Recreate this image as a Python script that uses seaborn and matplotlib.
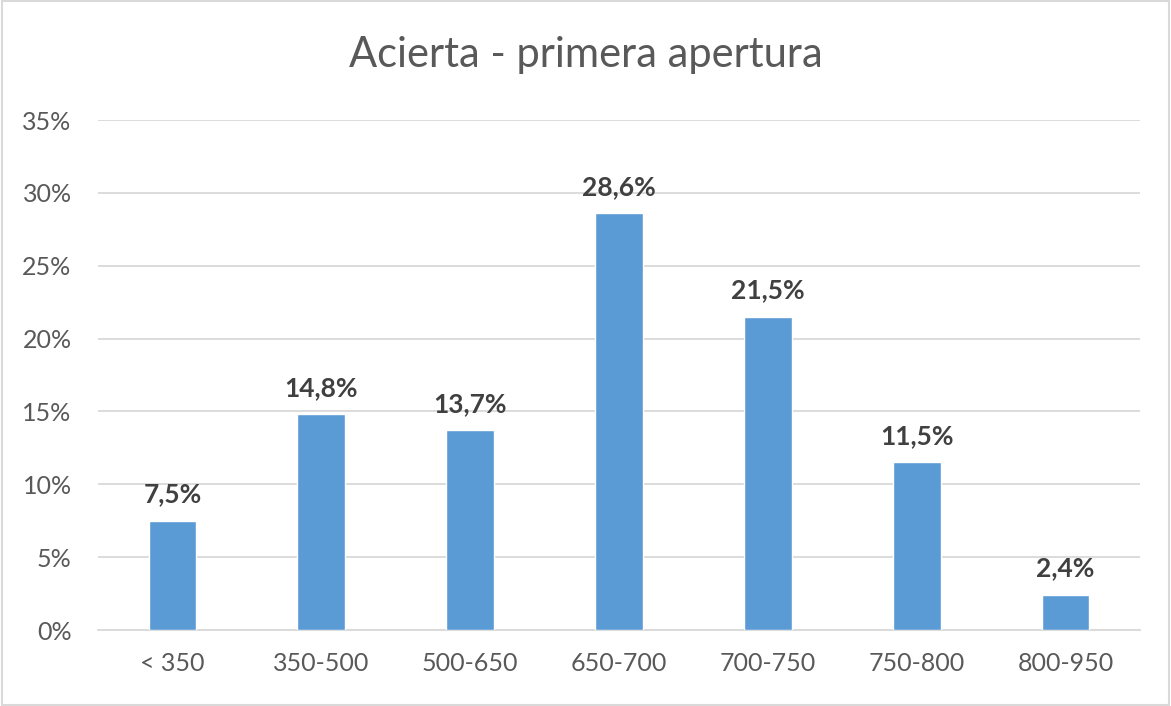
import matplotlib
matplotlib.use("Agg")
import matplotlib.pyplot as plt
import seaborn as sns
import pandas as pd
from matplotlib.patches import Rectangle

# ─── Data ─────────────────────────────────────────────────────────────────────
categories = ["< 350", "350-500", "500-650", "650-700", "700-750", "750-800", "800-950"]
values = [7.5, 14.8, 13.7, 28.6, 21.5, 11.5, 2.4]
y_ticks = [0, 5, 10, 15, 20, 25, 30, 35]

df = pd.DataFrame({"rango": categories, "pct": values})

sns.set_theme(style="white")
plt.rcParams["font.family"] = ["Lato", "DejaVu Sans"]

fig = plt.figure(figsize=(11.71, 7.06), dpi=100)
ax = fig.add_axes([0.0837, 0.1076, 0.8898, 0.7224])

sns.barplot(data=df, x="rango", y="pct", color="#5B9BD5", width=0.32,
            saturation=1, ax=ax, zorder=3)

ax.set_ylim(0, 35)
ax.set_xlim(-0.5, len(categories) - 0.5)
ax.set_yticks(y_ticks)
ax.set_yticklabels([f"{t}%" for t in y_ticks])
ax.yaxis.grid(True, color="#D9D9D9", lw=1.3, zorder=0)
for s in ["top", "right", "left"]:
    ax.spines[s].set_visible(False)
ax.spines["bottom"].set_color("#D9D9D9")
ax.spines["bottom"].set_linewidth(1.3)
ax.tick_params(axis="both", length=0, labelsize=18, colors="#595959")
ax.tick_params(axis="x", pad=16)
ax.tick_params(axis="y", pad=19)
ax.set_xlabel("")
ax.set_ylabel("")

for i, v in enumerate(values):
    ax.text(i, v + 1.0, f"{v:.1f}%".replace(".", ","), ha="center", va="bottom",
            fontsize=19, fontweight="bold", color="#404040")

fig.text(0.5, 0.922, "Acierta - primera apertura", ha="center", va="center",
         fontsize=30, color="#595959")

# thin outer border like the Excel chart area
fig.patches.append(Rectangle((0.002, 0.002), 0.996, 0.996, transform=fig.transFigure,
                             fill=False, edgecolor="#D9D9D9", lw=1.5))

fig.savefig("out.png", dpi=100)
